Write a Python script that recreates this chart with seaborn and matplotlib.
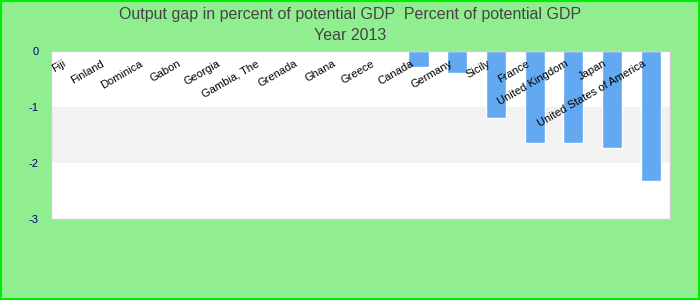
import numpy as np
import pandas as pd
import matplotlib
matplotlib.use("Agg")
import matplotlib.pyplot as plt
import seaborn as sns

categories = ["Fiji", "Finland", "Dominica", "Gabon", "Georgia", "Gambia, The",
              "Grenada", "Ghana", "Greece", "Canada", "Germany", "Sicily",
              "France", "United Kingdom", "Japan", "United States of America"]
values = [np.nan, np.nan, np.nan, np.nan, np.nan, np.nan, np.nan, np.nan, np.nan,
          -0.28, -0.40, -1.19, -1.64, -1.65, -1.74, -2.32]
y_ticks = [0, -1, -2, -3]
title_lines = ["Output gap in percent of potential GDP  Percent of potential GDP", "Year 2013"]

sns.set_theme(style="white")
plt.rcParams['font.family'] = ['Liberation Sans', 'DejaVu Sans']

df = pd.DataFrame({"country": categories, "value": values})

fig = plt.figure(figsize=(7, 3), dpi=100, facecolor="#90ee90")
ax = fig.add_axes([51/700, 1-219/300, 619/700, 168/300])
ax.set_facecolor("white")

ax.axhspan(-2, -1, color="#f2f2f2", zorder=0, lw=0)

sns.barplot(data=df, x="country", y="value", order=categories, color="#63a9f2",
            width=0.52, saturation=1, ax=ax, zorder=2)

ax.set_ylim(-3, 0)
ax.set_xlim(-0.5, len(categories) - 0.5)
ax.set_yticks(y_ticks)
ax.set_yticklabels([str(t) for t in y_ticks], color="#000080", fontsize=8)
ax.tick_params(axis="y", length=0, pad=9)
ax.set_xticks([])
ax.set_xlabel("")
ax.set_ylabel("")
for s in ax.spines.values():
    s.set_color("#cccccc")
    s.set_linewidth(1)

for i, c in enumerate(categories):
    ax.text(i - 0.15, -0.21, c, rotation=30, ha="right", va="center",
            rotation_mode="anchor", fontsize=8, color="black", zorder=3)

fig.text(0.5, 1 - 14/300, title_lines[0], ha="center", va="center", fontsize=11.5, color="#444444")
fig.text(0.5, 1 - 35/300, title_lines[1], ha="center", va="center", fontsize=11.5, color="#444444")

border = plt.Rectangle((0.001, 0.002), 0.997, 0.995, transform=fig.transFigure,
                       fill=False, edgecolor="#00ee00", lw=1.5)
fig.patches.append(border)

fig.savefig("out.png", dpi=100, facecolor=fig.get_facecolor())
